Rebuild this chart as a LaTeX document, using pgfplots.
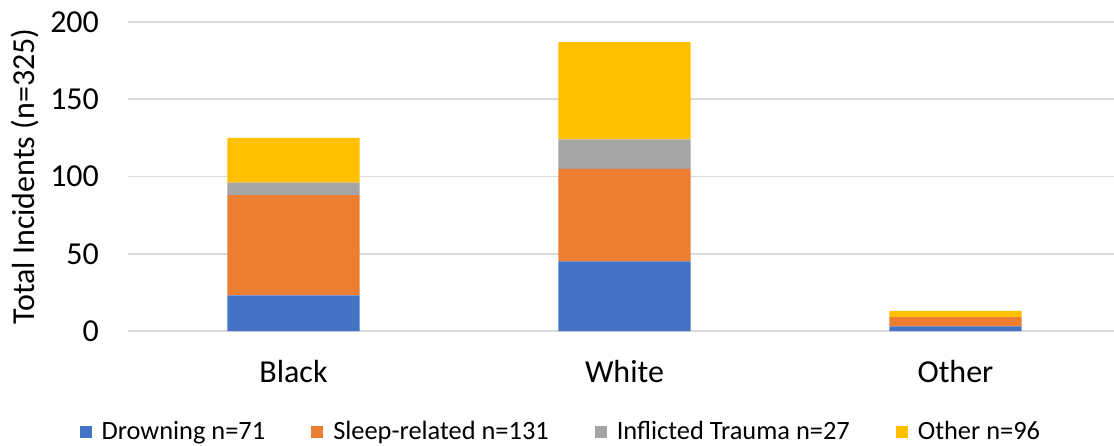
\documentclass[border=0pt]{standalone}
\usepackage{fontspec}
\setmainfont{Carlito}
\usepackage{pgfplots}
\pgfplotsset{compat=1.18}

\definecolor{cblue}{HTML}{4472C4}
\definecolor{corange}{HTML}{ED7D31}
\definecolor{cgray}{HTML}{A5A5A5}
\definecolor{cgold}{HTML}{FFC000}
\definecolor{cgrid}{HTML}{D9D9D9}

\begin{document}
\begin{tikzpicture}
\begin{axis}[
    name=ax,
    at={(0,0)}, anchor=south west,
    scale only axis,
    width=493pt, height=154.5pt,
    ybar stacked,
    bar width=0.4,
    xmin=-0.5, xmax=2.479,
    ymin=0, ymax=200,
    ytick={0,50,100,150,200},
    xtick={0,1,2},
    xticklabels={Black,White,Other},
    ymajorgrids,
    grid style={cgrid, line width=0.8pt},
    axis line style={draw=none},
    major tick length=0pt,
    /pgf/number format/assume math mode=true,
    yticklabel style={font=\fontsize{16}{19}\selectfont, xshift=-11pt},
    xticklabel style={font=\fontsize{16}{19}\selectfont, yshift=-11pt},
    ylabel={Total Incidents (n=325)},
    ylabel style={font=\fontsize{16}{19}\selectfont, at={(axis description cs:-0.1045,0.5)}, anchor=center},
    legend columns=4,
    legend style={draw=none, fill=none, at={(0.44,-0.327)}, anchor=center,
        font=\fontsize{13.2}{15}\selectfont,
        /tikz/every even column/.append style={column sep=21pt}},
    legend image code/.code={\fill[#1] (0pt,-3pt) rectangle (6pt,3pt); \path (9pt,0pt);},
]
\addplot[fill=cblue, draw=none] coordinates {(0,23) (1,45) (2,3)};
\addplot[fill=corange, draw=none] coordinates {(0,65) (1,60) (2,6)};
\addplot[fill=cgray, draw=none] coordinates {(0,8) (1,19) (2,0)};
\addplot[fill=cgold, draw=none] coordinates {(0,29) (1,63) (2,4)};
\legend{Drowning n=71, Sleep-related n=131, Inflicted Trauma n=27, Other n=96}
\end{axis}
\pgfresetboundingbox
\path ([xshift=-64pt,yshift=-57pt]ax.south west) rectangle ([yshift=11pt]ax.north east);
\end{tikzpicture}
\end{document}
